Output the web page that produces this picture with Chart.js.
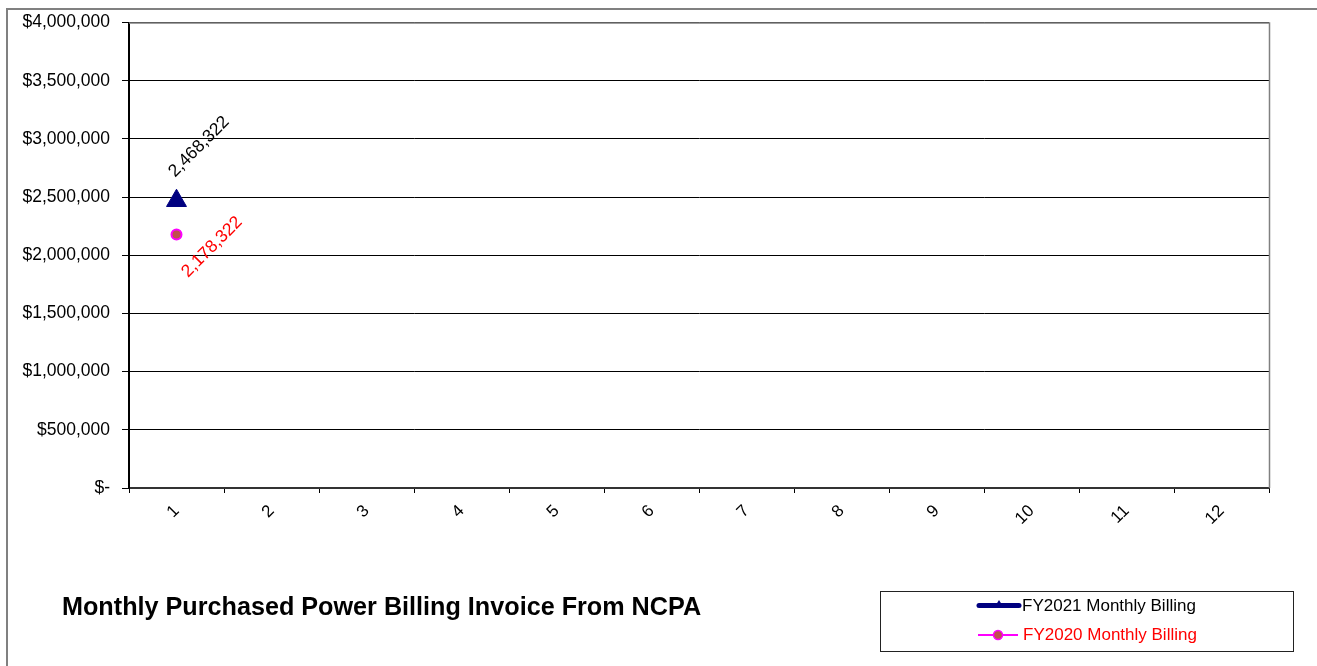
<!DOCTYPE html>
<html><head><meta charset="utf-8">
<script src="https://cdn.jsdelivr.net/npm/chart.js@4/dist/chart.umd.min.js"></script>
<style>html,body{margin:0;padding:0;background:#fff;overflow:hidden}canvas{display:block}</style>
</head><body>
<canvas id="c" width="1317" height="666"></canvas>
<script>
// ---- data ----
const months = ['1','2','3','4','5','6','7','8','9','10','11','12'];
const fy2021Billing = [2468322, null, null, null, null, null, null, null, null, null, null, null];
const fy2020Billing = [2178322, null, null, null, null, null, null, null, null, null, null, null];
const seriesNames = ['FY2021 Monthly Billing', 'FY2020 Monthly Billing'];
const yAxisMin = 0;
const yAxisMax = 4000000;
const yAxisStep = 500000;
const chartTitle = 'Monthly Purchased Power Billing Invoice From NCPA';

// ---- styles ----
const FONT = '"Liberation Sans", Arial, sans-serif';
Chart.defaults.font.family = FONT;
Chart.defaults.color = '#000';

const fmtMoney = v => v === 0 ? '$-' : '$' + v.toLocaleString('en-US');
const fmtNum = v => v.toLocaleString('en-US');

// label placement relative to point (px), per dataset
const labelStyle = [
  {dx: 22.5, dy: -54, color: '#000'},
  {dx: 35.5, dy: 12.5, color: '#FF0000'}
];

const decorPlugin = {
  id: 'decor',
  beforeDraw(chart) {
    const ctx = chart.ctx;
    ctx.save();
    ctx.fillStyle = '#fff';
    ctx.fillRect(0, 0, chart.width, chart.height);
    // outer frame
    ctx.strokeStyle = '#808080';
    ctx.lineWidth = 2;
    ctx.beginPath();
    ctx.moveTo(7, chart.height + 2);
    ctx.lineTo(7, 9);
    ctx.lineTo(chart.width + 2, 9);
    ctx.stroke();
    ctx.restore();
  },
  afterDraw(chart) {
    const ctx = chart.ctx;
    const a = chart.chartArea;
    ctx.save();
    // plot area top & right border
    ctx.strokeStyle = '#808080';
    ctx.lineWidth = 1.5;
    ctx.beginPath();
    ctx.moveTo(a.left, a.top + 0.5);
    ctx.lineTo(a.right + 0.5, a.top + 0.5);
    ctx.lineTo(a.right + 0.5, a.bottom);
    ctx.stroke();

    // data labels (rotated)
    chart.data.datasets.forEach((ds, di) => {
      const meta = chart.getDatasetMeta(di);
      ds.data.forEach((v, i) => {
        if (v === null || v === undefined) return;
        const p = meta.data[i];
        const st = labelStyle[di];
        ctx.save();
        ctx.translate(p.x + st.dx, p.y + st.dy);
        ctx.rotate(-Math.PI / 4);
        ctx.font = '17.5px ' + FONT;
        ctx.fillStyle = st.color;
        ctx.textAlign = 'center';
        ctx.textBaseline = 'middle';
        ctx.fillText(fmtNum(v), 0, 0);
        ctx.restore();
      });
    });

    // title
    ctx.font = 'bold 25.2px ' + FONT;
    ctx.fillStyle = '#000';
    ctx.textAlign = 'left';
    ctx.textBaseline = 'middle';
    ctx.fillText(chartTitle, 62, 608);

    // legend
    ctx.strokeStyle = '#222';
    ctx.lineWidth = 1;
    ctx.strokeRect(880.5, 591.5, 413, 60);
    // entry 1
    ctx.lineCap = 'round';
    ctx.strokeStyle = '#000080';
    ctx.lineWidth = 5;
    ctx.beginPath(); ctx.moveTo(979, 605.5); ctx.lineTo(1019, 605.5); ctx.stroke();
    ctx.fillStyle = '#000080';
    ctx.beginPath(); ctx.moveTo(999, 600); ctx.lineTo(1004, 608); ctx.lineTo(994, 608); ctx.closePath(); ctx.fill();
    ctx.font = '17px ' + FONT;
    ctx.fillStyle = '#000';
    ctx.textBaseline = 'middle';
    ctx.fillText(seriesNames[0], 1022, 606);
    // entry 2
    ctx.lineCap = 'butt';
    ctx.strokeStyle = '#FF00FF';
    ctx.lineWidth = 2;
    ctx.beginPath(); ctx.moveTo(978, 635); ctx.lineTo(1018, 635); ctx.stroke();
    ctx.fillStyle = '#C0504D';
    ctx.beginPath(); ctx.arc(998, 635, 4.5, 0, Math.PI * 2); ctx.fill();
    ctx.lineWidth = 1.5; ctx.strokeStyle = '#FF00FF'; ctx.stroke();
    ctx.fillStyle = '#FF0000';
    ctx.fillText(seriesNames[1], 1023, 635);
    ctx.restore();
  }
};

new Chart(document.getElementById('c'), {
  type: 'line',
  data: {
    labels: months,
    datasets: [
      {
        label: seriesNames[0], data: fy2021Billing,
        borderColor: '#000080', backgroundColor: '#000080', borderWidth: 4,
        pointStyle: 'triangle', pointRadius: 11.5, pointBorderWidth: 1,
        pointBackgroundColor: '#000080', pointBorderColor: '#000080'
      },
      {
        label: seriesNames[1], data: fy2020Billing,
        borderColor: '#FF00FF', backgroundColor: '#FF00FF', borderWidth: 2,
        pointStyle: 'circle', pointRadius: 5, pointBorderWidth: 2,
        pointBackgroundColor: '#C0504D', pointBorderColor: '#FF00FF'
      }
    ]
  },
  options: {
    responsive: false, animation: false, devicePixelRatio: 1,
    layout: {padding: {left: 0, top: 22, right: 48, bottom: 0}},
    plugins: {legend: {display: false}, title: {display: false}, tooltip: {enabled: false}},
    scales: {
      x: {
        type: 'category', offset: true,
        grid: {offset: true, drawOnChartArea: false, drawTicks: true, tickLength: 5, color: '#000', lineWidth: 1},
        border: {color: '#333', width: 2},
        ticks: {minRotation: 45, maxRotation: 45, font: {size: 17}, color: '#000', padding: 8, autoSkip: false},
        afterFit(s) { s.height = 178; }
      },
      y: {
        min: yAxisMin, max: yAxisMax,
        grid: {color: '#000', lineWidth: 1, tickLength: 7, drawTicks: true},
        border: {color: '#000', width: 2},
        ticks: {stepSize: yAxisStep, font: {size: 17.5}, color: '#000', padding: 12, callback: v => fmtMoney(v)},
        afterFit(s) { s.width = 129; }
      }
    }
  },
  plugins: [decorPlugin]
});
</script>
</body></html>
